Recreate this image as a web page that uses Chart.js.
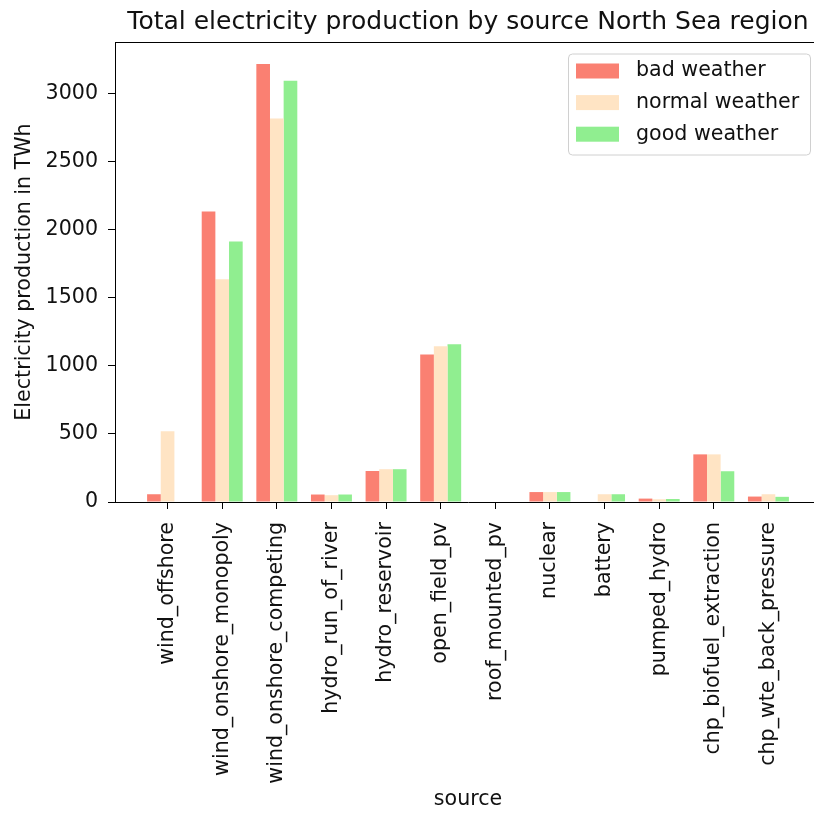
<!DOCTYPE html>
<html>
<head>
<meta charset="utf-8">
<script src="https://cdn.jsdelivr.net/npm/chart.js@4/dist/chart.umd.min.js"></script>
<style>
  html, body { margin: 0; padding: 0; background: #fff; overflow: hidden; }
  canvas { display: block; }
</style>
</head>
<body>
<canvas id="grafica" width="830" height="814"></canvas>
<script>
// categories and values (TWh)
const categories = ['wind_offshore', 'wind_onshore_monopoly', 'wind_onshore_competing',
  'hydro_run_of_river', 'hydro_reservoir', 'open_field_pv', 'roof_mounted_pv', 'nuclear',
  'battery', 'pumped_hydro', 'chp_biofuel_extraction', 'chp_wte_back_pressure'];
const badWeather    = [57, 2134, 3218, 55, 228, 1083, 0, 73, 0, 25, 350, 40];
const normalWeather = [520, 1636, 2817, 50, 241, 1144, 0, 73, 57, 20, 350, 57];
const goodWeather   = [0, 1915, 3096, 55, 241, 1159, 0, 73, 57, 22, 226, 38];
const yTicks = [0, 500, 1000, 1500, 2000, 2500, 3000];

const FONT = 'DejaVu Sans';
const toPoints = (arr) => arr.map((v, i) => ({ x: i, y: v }));

// title, top/right spines and matplotlib-like legend
const extras = {
    id: 'extras',
    afterDraw(chart) {
        const ctx = chart.ctx;
        const a = chart.chartArea;
        ctx.save();
        ctx.strokeStyle = '#000';
        ctx.lineWidth = 1;
        ctx.beginPath();
        ctx.moveTo(a.left, a.top + 0.5);
        ctx.lineTo(a.right, a.top + 0.5);
        ctx.lineTo(a.right - 0.5, a.bottom);
        ctx.stroke();

        ctx.fillStyle = '#111';
        ctx.font = '25px "' + FONT + '"';
        ctx.textAlign = 'center';
        ctx.textBaseline = 'alphabetic';
        ctx.fillText('Total electricity production by source North Sea region', (a.left + a.right) / 2, 29);

        // legend
        const bx = a.right - 252.5, by = a.top + 12, bw = 242, bh = 101;
        ctx.beginPath();
        ctx.roundRect(bx, by, bw, bh, 4);
        ctx.fillStyle = 'rgba(255,255,255,0.8)';
        ctx.fill();
        ctx.strokeStyle = '#d0d0d0';
        ctx.stroke();
        ctx.font = '20.6px "' + FONT + '"';
        ctx.textAlign = 'left';
        ctx.textBaseline = 'middle';
        chart.data.datasets.forEach((ds, i) => {
            const cy = by + 17 + i * 31.6;
            ctx.fillStyle = ds.backgroundColor;
            ctx.fillRect(bx + 7.5, cy - 7.5, 43, 15);
            ctx.fillStyle = '#111';
            ctx.fillText(ds.label, bx + 67.5, cy);
        });
        ctx.restore();
    }
};

new Chart(document.getElementById('grafica'), {
    type: 'bar',
    data: {
        datasets: [
            { label: 'bad weather', data: toPoints(badWeather), backgroundColor: '#FA8072' },
            { label: 'normal weather', data: toPoints(normalWeather), backgroundColor: '#FFE4C4' },
            { label: 'good weather', data: toPoints(goodWeather), backgroundColor: '#90EE90' }
        ]
    },
    options: {
        responsive: false,
        animation: false,
        layout: { padding: { top: 42, right: 9, left: 0, bottom: 0 } },
        datasets: {
            bar: { categoryPercentage: 0.75, barPercentage: 1.0, borderWidth: 0 }
        },
        scales: {
            x: {
                type: 'linear',
                offset: false,
                min: -0.9625,
                max: categories.length - 1 + 0.9625,
                afterBuildTicks: (s) => { s.ticks = categories.map((c, i) => ({ value: i })); },
                afterFit: (s) => { s.height = 312; },
                grid: { offset: false, drawOnChartArea: false, drawTicks: true, tickLength: 7, color: '#000' },
                border: { color: '#000', width: 1 },
                ticks: {
                    autoSkip: false,
                    minRotation: 90,
                    maxRotation: 90,
                    padding: 13,
                    color: '#111',
                    font: { family: FONT, size: 20.6 },
                    callback: (v) => categories[v]
                },
                title: {
                    display: true,
                    text: 'source',
                    color: '#111',
                    font: { family: FONT, size: 20.6 },
                    padding: { top: 0, bottom: 2 }
                }
            },
            y: {
                min: 0,
                max: 3380,
                afterBuildTicks: (s) => { s.ticks = yTicks.map((v) => ({ value: v })); },
                afterFit: (s) => { s.width = 115; },
                grid: { drawOnChartArea: false, drawTicks: true, tickLength: 7, color: '#000' },
                border: { color: '#000', width: 1 },
                ticks: {
                    padding: 10,
                    color: '#111',
                    font: { family: FONT, size: 20.6 },
                    callback: (v) => String(v)
                },
                title: {
                    display: true,
                    text: 'Electricity production in TWh',
                    color: '#111',
                    font: { family: FONT, size: 20.6 },
                    padding: { top: 12, bottom: 0 }
                }
            }
        },
        plugins: {
            legend: { display: false },
            title: { display: false },
            tooltip: { enabled: false }
        }
    },
    plugins: [extras]
});
</script>
</body>
</html>
